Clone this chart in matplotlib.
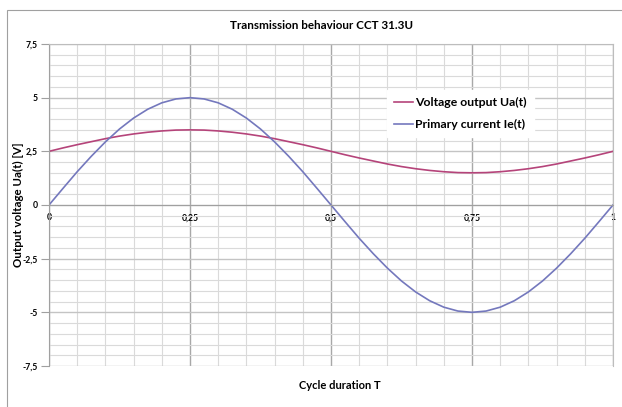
import matplotlib
matplotlib.use("Agg")
import matplotlib.pyplot as plt
from matplotlib.patches import Rectangle
from matplotlib.ticker import MultipleLocator, FuncFormatter

# step 0.025 of T
t = [0.0, 0.025, 0.05, 0.075, 0.1, 0.125, 0.15, 0.175, 0.2, 0.225, 0.25,
     0.275, 0.3, 0.325, 0.35, 0.375, 0.4, 0.425, 0.45, 0.475, 0.5,
     0.525, 0.55, 0.575, 0.6, 0.625, 0.65, 0.675, 0.7, 0.725, 0.75,
     0.775, 0.8, 0.825, 0.85, 0.875, 0.9, 0.925, 0.95, 0.975, 1.0]
ua = [2.5, 2.66, 2.81, 2.95, 3.09, 3.21, 3.31, 3.39, 3.45, 3.49, 3.5,
      3.49, 3.45, 3.39, 3.31, 3.21, 3.09, 2.95, 2.81, 2.66, 2.5,
      2.34, 2.19, 2.05, 1.91, 1.79, 1.69, 1.61, 1.55, 1.51, 1.5,
      1.51, 1.55, 1.61, 1.69, 1.79, 1.91, 2.05, 2.19, 2.34, 2.5]
ie = [0.0, 0.78, 1.55, 2.27, 2.94, 3.54, 4.05, 4.46, 4.76, 4.94, 5.0,
      4.94, 4.76, 4.46, 4.05, 3.54, 2.94, 2.27, 1.55, 0.78, 0.0,
      -0.78, -1.55, -2.27, -2.94, -3.54, -4.05, -4.46, -4.76, -4.94, -5.0,
      -4.94, -4.76, -4.46, -4.05, -3.54, -2.94, -2.27, -1.55, -0.78, 0.0]

plt.rcParams["font.family"] = ["Lato", "DejaVu Sans"]

fig = plt.figure(figsize=(6.22, 4.07), dpi=100)
fig.patches.append(Rectangle((7 / 622, -0.1), 1.2, 1 - 10 / 407 + 0.1,
                             transform=fig.transFigure, fill=False,
                             ec="#a0a0a0", lw=0.8))
ax = fig.add_axes([49 / 622, 1 - 366 / 407, 564 / 622, 322 / 407])

ax.plot(t, ua, color="#b5447a", lw=1.2, label="Voltage output Ua(t)")
ax.plot(t, ie, color="#7478bd", lw=1.2, label="Primary current Ie(t)")

ax.set_xlim(0, 1)
ax.set_ylim(-7.5, 7.5)
ax.xaxis.set_major_locator(MultipleLocator(0.25))
ax.xaxis.set_minor_locator(MultipleLocator(0.05))
ax.yaxis.set_major_locator(MultipleLocator(2.5))
ax.yaxis.set_minor_locator(MultipleLocator(0.5))
fmt = FuncFormatter(lambda v, p: f"{v:g}".replace(".", ","))
ax.xaxis.set_major_formatter(fmt)
ax.yaxis.set_major_formatter(fmt)

ax.grid(which="minor", color="#dadada", lw=0.8)
ax.grid(which="major", axis="x", color="#a8a8a8", lw=1.0)
ax.grid(which="major", axis="y", color="#c4c4c4", lw=1.0)
ax.set_axisbelow(True)

for s in ("top", "right", "left"):
    ax.spines[s].set_color("#bdbdbd")
ax.spines["left"].set_color("#a0a0a0")
ax.spines["bottom"].set_position(("data", 0))
ax.spines["bottom"].set_color("#a0a0a0")

ax.tick_params(axis="x", which="both", length=0, pad=6, labelsize=6.2)
ax.tick_params(axis="y", which="major", length=6, color="#a0a0a0", pad=2, labelsize=6.2)
ax.tick_params(axis="y", which="minor", length=0)
for lab in ax.get_xticklabels() + ax.get_yticklabels():
    lab.set_fontweight("bold")

ax.set_xlabel("Cycle duration T", fontsize=8, fontweight="bold", labelpad=0)
ax.xaxis.set_label_coords(0.516, -0.045)
ax.set_ylabel("Output voltage Ua(t) [V]", fontsize=8.3, fontweight="bold")
ax.yaxis.set_label_coords(-0.045, 0.5)
ax.set_title("Transmission behaviour CCT 31.3U", fontsize=8.4, fontweight="bold",
             pad=11, x=0.483)

leg = ax.legend(loc="upper left", bbox_to_anchor=(338 / 564, 1 - 46 / 322),
                frameon=True, fancybox=False, edgecolor="white", framealpha=1,
                fontsize=8.8, handlelength=1.55, handletextpad=0.15,
                labelspacing=0.85, borderpad=0.6, borderaxespad=0)
for txt in leg.get_texts():
    txt.set_fontweight("bold")

fig.savefig("out.png", dpi=100)
